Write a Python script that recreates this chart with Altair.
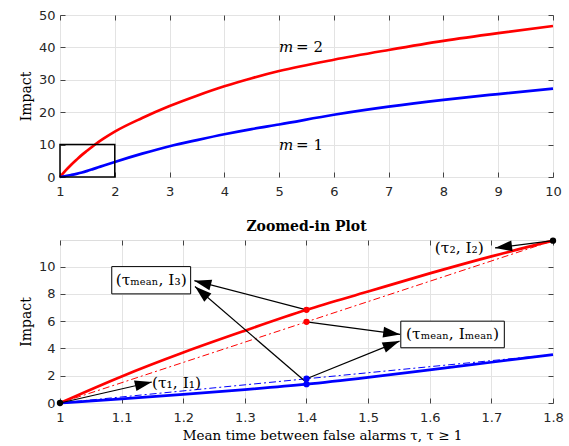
import math
import altair as alt
import pandas as pd

# ---------------- data ----------------
tau = [1.0, 1.1, 1.2, 1.3, 1.4, 1.5, 1.6, 1.7, 1.8, 2.0, 2.5, 3.0, 3.5, 4.0,
       4.5, 5.0, 6.0, 7.0, 8.0, 9.0, 10.0]
impact_m2 = [0.0, 1.95, 3.7, 5.3, 6.83, 8.17, 9.5, 10.75, 11.9, 14.0, 18.2,
             21.9, 25.1, 28.0, 30.5, 32.7, 36.2, 39.2, 42.0, 44.4, 46.6]
impact_m1 = [0.0, 0.3, 0.63, 0.98, 1.38, 1.88, 2.43, 2.99, 3.55, 4.64, 7.2,
             9.5, 11.4, 13.2, 14.8, 16.2, 19.2, 21.7, 23.8, 25.6, 27.3]

top_x_ticks = [1, 2, 3, 4, 5, 6, 7, 8, 9, 10]
top_y_ticks = [0, 10, 20, 30, 40, 50]
zoom_x_ticks = [1, 1.1, 1.2, 1.3, 1.4, 1.5, 1.6, 1.7, 1.8]
zoom_y_ticks = [0, 2, 4, 6, 8, 10]

# zoom rectangle in top panel
zoom_box_x = [1, 2]
zoom_box_y = [0, 10]

# chords (dash-dot) in zoomed panel
chord_x = [1.0, 1.8]
chord_m2 = [0.0, 11.9]
chord_m1 = [0.0, 3.55]

# marked points
pt_x = [1.4, 1.4, 1.4, 1.4, 1.0, 1.8]
pt_y = [6.83, 5.95, 1.38, 1.78, 0.0, 11.9]
pt_c = ["red", "red", "blue", "blue", "black", "black"]

# arrows (start -> tip)
ar_x1 = [1.0, 1.8, 1.4, 1.4, 1.4, 1.4]
ar_y1 = [0.0, 11.9, 6.83, 1.5, 5.95, 1.78]
ar_x2 = [1.149, 1.706, 1.218, 1.219, 1.552, 1.551]
ar_y2 = [1.54, 11.37, 8.97, 8.54, 5.03, 4.54]

# boxed labels
box_x1 = [1.084, 1.553]
box_x2 = [1.212, 1.721]
box_y1 = [8.0, 4.05]
box_y2 = [10.0, 6.0]
box_text = ["(τₘₑₐₙ, I₃)", "(τₘₑₐₙ, Iₘₑₐₙ)"]

# free labels
lab_x = [1.189, 1.648]
lab_y = [1.49, 11.37]
lab_text = ["(τ₁, I₁)", "(τ₂, I₂)"]

m_lab_x = [5.0, 5.0]
m_lab_y = [40.2, 9.75]
m_lab_val = ["= 2", "= 1"]

# ---------------- layout ----------------
W = 493
H_TOP = 162
H_BOT = 163
TOP_X = [1, 10]
TOP_Y = [0, 50]
ZX = [1, 1.8]
ZY = [0, 11.95]

SERIF = "DejaVu Serif"
SANS = "DejaVu Sans"
TICK_C = "#444444"
GRID_C = "#e3e3e3"

curves = pd.DataFrame({
    "tau": tau * 2,
    "impact": impact_m2 + impact_m1,
    "m": ["m=2"] * len(tau) + ["m=1"] * len(tau),
})
color_scale = alt.Scale(domain=["m=2", "m=1"], range=["#ff0000", "#0000ff"])


def xaxis(values, title=None):
    kw = dict(values=values, format="~g", tickCount=50, ticks=True, tickSize=5,
              tickColor=TICK_C, offset=-5, domain=False,
              labelFont=SANS, labelFontSize=13, labelColor="#262626",
              labelPadding=8, labelOverlap=False, labelFlush=False,
              labelBound=False, gridColor=GRID_C, gridWidth=1)
    if title:
        kw.update(title=title, titleFont=SERIF, titleFontSize=13.5,
                  titleFontWeight="normal", titleColor="black", titlePadding=4,
                  titleX=262)
    else:
        kw.update(title=None)
    return alt.Axis(**kw)


def yaxis(values):
    return alt.Axis(values=values, format="~g", tickCount=50, ticks=True,
                    tickSize=5, tickColor=TICK_C, offset=-5, domain=False,
                    title="Impact",
                    labelFont=SANS, labelFontSize=13, labelColor="#262626",
                    labelPadding=5, labelOverlap=False, labelFlush=False,
                    labelBound=False, titleFont=SERIF, titleFontSize=14,
                    titleFontWeight="normal", titleColor="black",
                    titlePadding=10, gridColor=GRID_C, gridWidth=1,
                    minExtent=22, maxExtent=22)


def mirror_axis(values, orient):
    return alt.Axis(values=values, tickCount=50, orient=orient, labels=False,
                    ticks=True, tickSize=5, tickColor=TICK_C, offset=-5,
                    domain=False, grid=False, title=None)


NOAX = dict(axis=None)

# ---------- top panel ----------
tx = alt.Scale(domain=TOP_X, nice=False, zero=False)
ty = alt.Scale(domain=TOP_Y, nice=False)

top_lines = alt.Chart(curves).mark_line(strokeWidth=2.7, interpolate="monotone").encode(
    x=alt.X("tau:Q", scale=tx, axis=xaxis(top_x_ticks)),
    y=alt.Y("impact:Q", scale=ty, axis=yaxis(top_y_ticks)),
    color=alt.Color("m:N", scale=color_scale, legend=None),
)
top_mirror = alt.Chart(curves).mark_point(opacity=0).encode(
    x=alt.X("tau:Q", scale=tx, axis=mirror_axis(top_x_ticks, "top")),
    y=alt.Y("impact:Q", scale=ty, axis=mirror_axis(top_y_ticks, "right")),
)

zoom_rect = alt.Chart(pd.DataFrame({
    "x1": [zoom_box_x[0]], "x2": [zoom_box_x[1]],
    "y1": [zoom_box_y[0]], "y2": [zoom_box_y[1]]})).mark_rect(
    fill=None, stroke="black", strokeWidth=1.5, fillOpacity=0).encode(
    x=alt.X("x1:Q", **NOAX), x2="x2:Q", y=alt.Y("y1:Q", **NOAX), y2="y2:Q")

mdf = pd.DataFrame({"x": m_lab_x, "y": m_lab_y, "v": m_lab_val})
m_italic = alt.Chart(mdf).mark_text(
    text="m", font=SERIF, fontSize=15, fontStyle="italic", align="left",
    baseline="middle", color="black").encode(
    x=alt.X("x:Q", **NOAX), y=alt.Y("y:Q", **NOAX))
m_rest = alt.Chart(mdf).mark_text(
    font=SERIF, fontSize=15, align="left", baseline="middle", dx=17,
    color="black").encode(x=alt.X("x:Q", **NOAX), y=alt.Y("y:Q", **NOAX),
                          text="v:N")

top = alt.layer(top_lines, top_mirror, zoom_rect, m_italic, m_rest).resolve_axis(
    x="independent", y="independent").properties(width=W, height=H_TOP)

# ---------- bottom panel ----------
zx = alt.Scale(domain=ZX, nice=False, zero=False)
zy = alt.Scale(domain=ZY, nice=False)

zcurves = curves[curves["tau"] <= 1.8 + 1e-9]
bot_lines = alt.Chart(zcurves).mark_line(strokeWidth=2.7, interpolate="monotone").encode(
    x=alt.X("tau:Q", scale=zx,
            axis=xaxis(zoom_x_ticks, "Mean time between false alarms τ, τ ≥ 1")),
    y=alt.Y("impact:Q", scale=zy, axis=yaxis(zoom_y_ticks)),
    color=alt.Color("m:N", scale=color_scale, legend=None),
)
bot_mirror = alt.Chart(zcurves).mark_point(opacity=0).encode(
    x=alt.X("tau:Q", scale=zx, axis=mirror_axis(zoom_x_ticks, "top")),
    y=alt.Y("impact:Q", scale=zy, axis=mirror_axis(zoom_y_ticks, "right")),
)

chords = pd.DataFrame({
    "x": chord_x * 2, "y": chord_m2 + chord_m1,
    "m": ["m=2"] * 2 + ["m=1"] * 2})
chord_lines = alt.Chart(chords).mark_line(strokeWidth=1, strokeDash=[7, 3, 2, 3]).encode(
    x=alt.X("x:Q", **NOAX), y=alt.Y("y:Q", **NOAX),
    color=alt.Color("m:N", scale=color_scale, legend=None))

# arrows
sx = W / (ZX[1] - ZX[0])
sy = H_BOT / (ZY[1] - ZY[0])
angles = []
for a, b, c, d in zip(ar_x1, ar_y1, ar_x2, ar_y2):
    ang = math.degrees(math.atan2(-(d - b) * sy, (c - a) * sx)) % 360
    angles.append(ang)
arrows = pd.DataFrame({"x1": ar_x1, "y1": ar_y1, "x2": ar_x2, "y2": ar_y2,
                       "ang": angles})
shafts = alt.Chart(arrows).mark_rule(color="black", strokeWidth=1.2).encode(
    x=alt.X("x1:Q", **NOAX), y=alt.Y("y1:Q", **NOAX), x2="x2:Q", y2="y2:Q")
heads = alt.Chart(arrows).mark_point(
    shape="M0,0L-1,-0.32L-1,0.32Z", size=1156, filled=True, color="black",
    opacity=1).encode(x=alt.X("x2:Q", **NOAX), y=alt.Y("y2:Q", **NOAX),
                      angle=alt.Angle("ang:Q", scale=None))

pts = pd.DataFrame({"x": pt_x, "y": pt_y, "c": pt_c})
points = alt.Chart(pts).mark_point(filled=True, size=40, opacity=1).encode(
    x=alt.X("x:Q", **NOAX), y=alt.Y("y:Q", **NOAX),
    color=alt.Color("c:N", scale=None))

boxes = pd.DataFrame({"x1": box_x1, "x2": box_x2, "y1": box_y1, "y2": box_y2,
                      "t": box_text,
                      "xm": [(a + b) / 2 for a, b in zip(box_x1, box_x2)],
                      "ym": [(a + b) / 2 for a, b in zip(box_y1, box_y2)]})
box_rects = alt.Chart(boxes).mark_rect(fill="white", stroke="black",
                                       strokeWidth=1).encode(
    x=alt.X("x1:Q", **NOAX), x2="x2:Q", y=alt.Y("y1:Q", **NOAX), y2="y2:Q")
box_texts = alt.Chart(boxes).mark_text(font=SERIF, fontSize=15.5, color="black",
                                       align="center", baseline="middle").encode(
    x=alt.X("xm:Q", **NOAX), y=alt.Y("ym:Q", **NOAX), text="t:N")

labs = pd.DataFrame({"x": lab_x, "y": lab_y, "t": lab_text})
lab_texts = alt.Chart(labs).mark_text(font=SERIF, fontSize=15.5, color="black",
                                      align="center", baseline="middle").encode(
    x=alt.X("x:Q", **NOAX), y=alt.Y("y:Q", **NOAX), text="t:N")

bottom = alt.layer(bot_lines, bot_mirror, chord_lines, shafts, heads, points,
                   box_rects, box_texts, lab_texts).resolve_axis(
    x="independent", y="independent").properties(
    width=W, height=H_BOT,
    title=alt.TitleParams("Zoomed-in Plot", font=SERIF, fontSize=14,
                          fontWeight="bold", color="black", offset=1))

chart = alt.vconcat(top, bottom, spacing=63, bounds="flush").properties(
    padding={"left": 18, "top": 8, "right": 5, "bottom": 5}
).configure_view(stroke="#555555", strokeWidth=1).configure(
    background="white")

chart.save("out.html", embed_options={"renderer": "svg", "actions": False})
